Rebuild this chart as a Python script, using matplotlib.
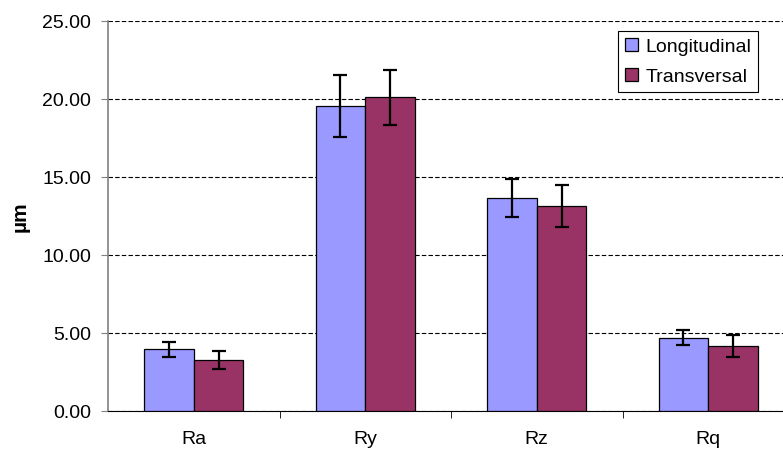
import numpy as np
import matplotlib.pyplot as plt

plt.rcParams['font.family'] = ['Liberation Sans', 'DejaVu Sans']

categories = ["Ra", "Ry", "Rz", "Rq"]
longitudinal = [3.95, 19.55, 13.65, 4.70]
longitudinal_err = [0.50, 2.00, 1.20, 0.48]
transversal = [3.25, 20.10, 13.12, 4.15]
transversal_err = [0.57, 1.75, 1.35, 0.70]

fig = plt.figure(figsize=(7.83, 4.52), dpi=100)
ax = fig.add_axes([108 / 783, 40 / 452, 686 / 783, 390 / 452])

x = np.arange(len(categories))
w = 0.29
err_kw = dict(ecolor="black", elinewidth=1.6, capsize=5, capthick=1.6)
ax.bar(x - w / 2, longitudinal, w, yerr=longitudinal_err, color="#9999FF",
       edgecolor="black", linewidth=0.9, label="Longitudinal", error_kw=err_kw, zorder=3)
ax.bar(x + w / 2, transversal, w, yerr=transversal_err, color="#993366",
       edgecolor="black", linewidth=0.9, label="Transversal", error_kw=err_kw, zorder=3)

ax.set_xlim(-0.5, 3.5)
ax.set_ylim(0, 25)
ax.set_yticks(np.arange(0, 26, 5))
ax.set_yticklabels([f"{v:.2f}" for v in np.arange(0, 26, 5)], fontsize=14)
ax.set_xticks(x)
ax.set_xticklabels(categories, fontsize=14)
ax.tick_params(axis="x", length=0, pad=14)
ax.set_xticks([0.5, 1.5, 2.5], minor=True)
ax.tick_params(axis="x", which="minor", length=5, direction="out")
ax.tick_params(axis="y", length=5, direction="out", color="#808080", pad=7)
ax.set_ylabel("µm", fontsize=15, fontweight="bold", labelpad=9)

ax.yaxis.grid(True, linestyle=(0, (4, 2)), color="black", linewidth=0.8, zorder=0)
for s in ["top", "right"]:
    ax.spines[s].set_visible(False)
ax.spines["left"].set_color("#808080")
ax.spines["left"].set_linewidth(1.2)
ax.spines["bottom"].set_color("black")

leg = ax.legend(loc="upper right", bbox_to_anchor=(758 / 783, 1 - 32 / 452),
                bbox_transform=fig.transFigure, borderaxespad=0, fontsize=14,
                fancybox=False, framealpha=1, edgecolor="black",
                handlelength=0.65, handleheight=0.65, handletextpad=0.4,
                borderpad=0.35, labelspacing=0.65)
leg.get_frame().set_linewidth(0.8)

fig.savefig("out.png", dpi=100)
